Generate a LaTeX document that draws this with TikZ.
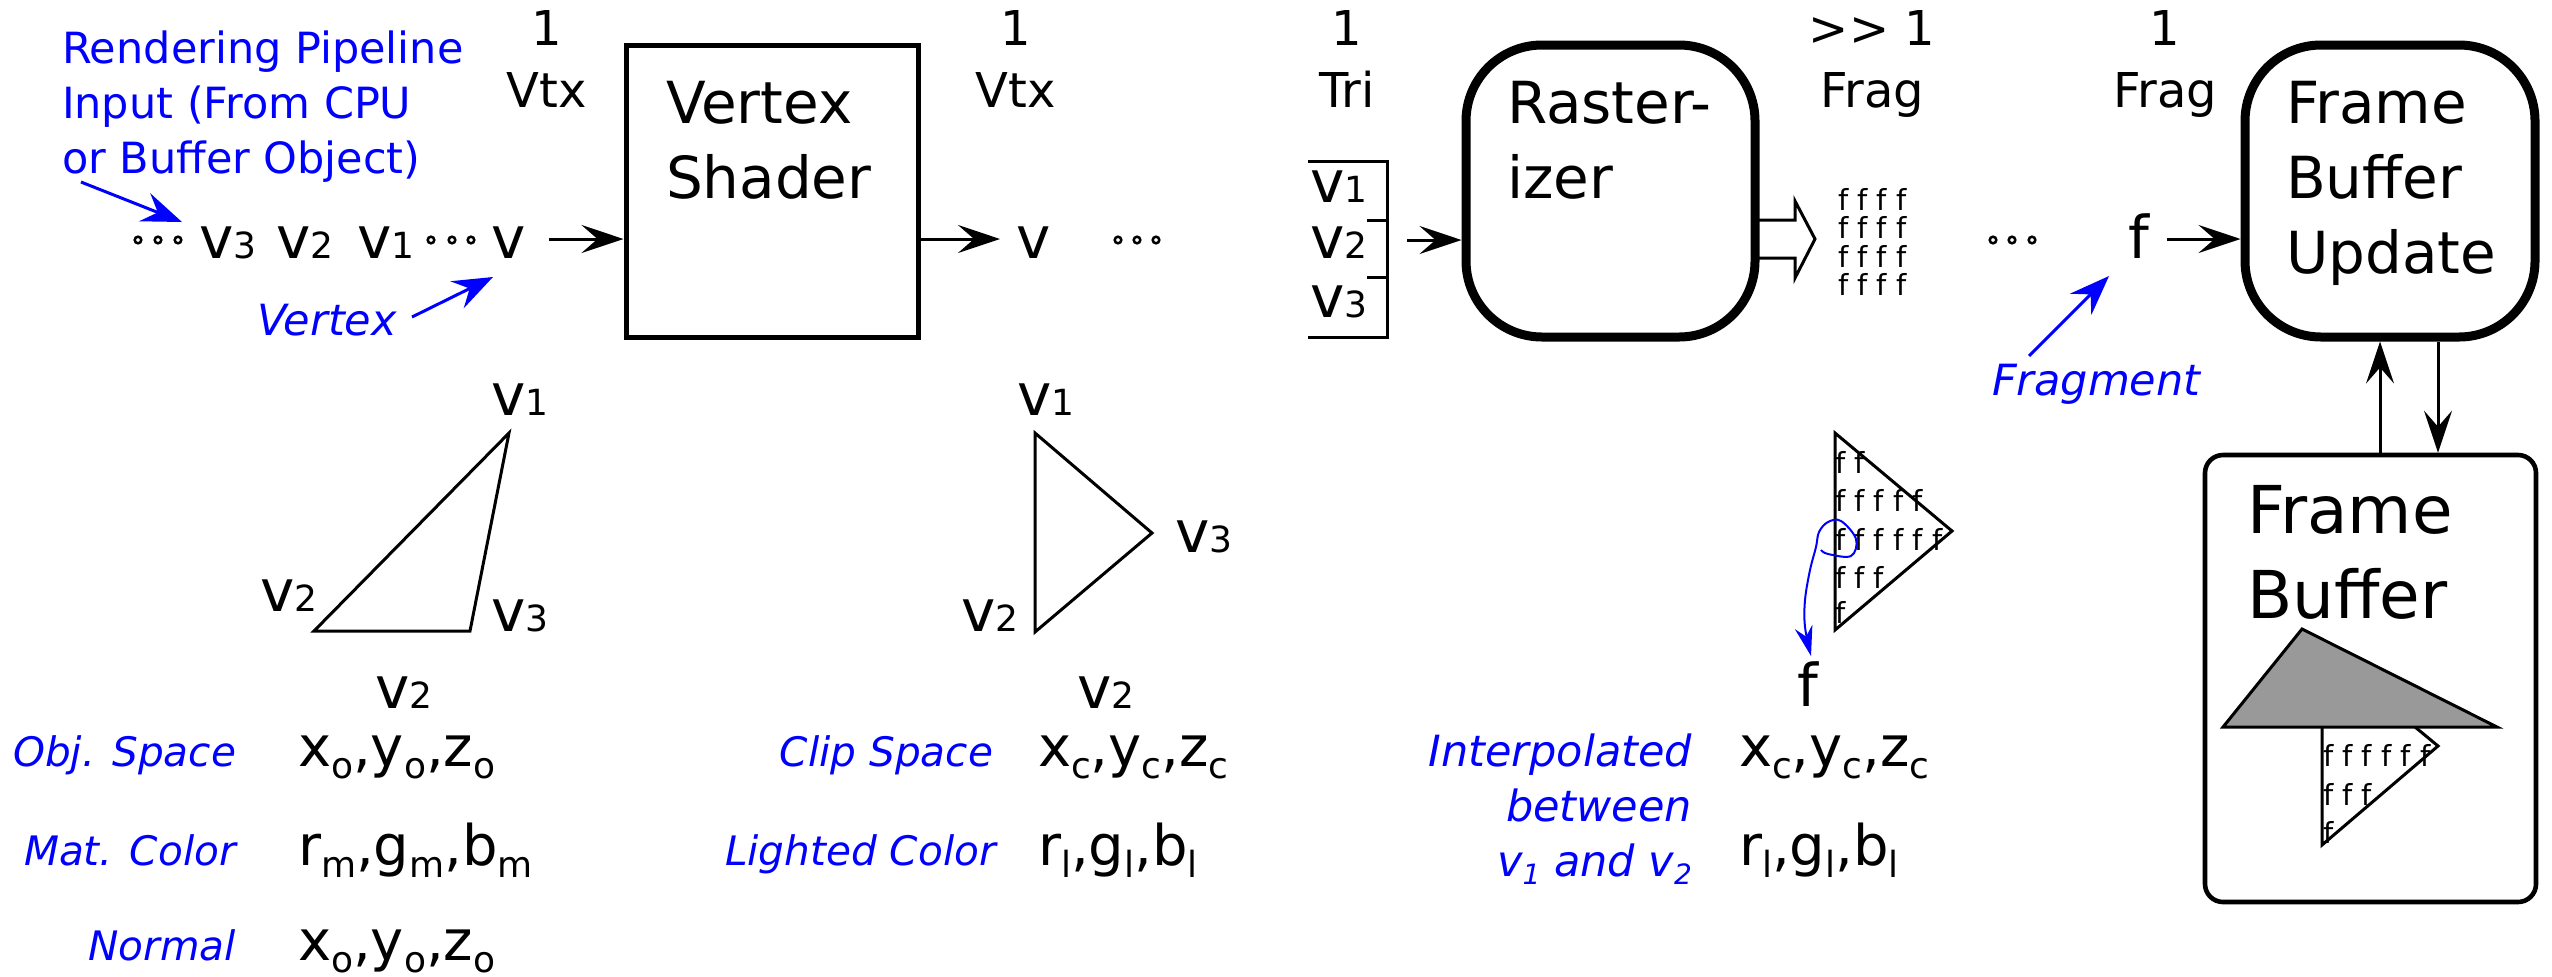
\documentclass[tikz,border=0pt]{standalone}
\usepackage{fontspec}
\setmainfont{DejaVu Sans}
\usetikzlibrary{arrows.meta}
\definecolor{fbgray}{RGB}{153,153,153}
\newcommand\fsz[2]{\fontsize{#1}{#2}\selectfont}
\newcommand\vsub[1]{{\fsz{29pt}{29pt}v}{\fsz{18pt}{18pt}#1}}
\newcommand\lsub[1]{\raisebox{-6pt}{\fsz{18pt}{18pt}#1}}
\newcommand\bsub[1]{\raisebox{-4pt}{\fsz{14pt}{14pt}#1}}
\begin{document}
\begin{tikzpicture}[x=0.5pt,y=-0.5pt,
  txt/.style={inner sep=0pt, outer sep=0pt},
  toplbl/.style={txt, anchor=base, font=\fsz{24pt}{24pt}},
  boxtxt/.style={txt, anchor=base west, font=\fsz{29pt}{29pt}},
  bigtxt/.style={txt, anchor=base west, font=\fsz{33pt}{33pt}},
  vlbl/.style={txt, anchor=base west},
  bluelbl/.style={txt, text=blue, font=\itshape\fsz{21.5pt}{21.5pt}},
  bluesm/.style={txt, text=blue, font=\itshape\fsz{20.3pt}{20.3pt}},
  blueup/.style={txt, text=blue, font=\fsz{21.5pt}{21.5pt}},
  coordtxt/.style={txt, anchor=base west, font=\fsz{28pt}{28pt}},
  smallf/.style={txt, anchor=base west, font=\fsz{14.5pt}{14.5pt}},
  arr/.style={line width=1.5pt, -{Stealth[length=21pt,width=14pt,inset=8pt]}},
  barr/.style={draw=blue, line width=1.5pt, -{Stealth[length=20pt,width=15pt,inset=7pt]}},
  dotc/.style={line width=1.25pt},
  tri/.style={line width=1.5pt},
]
\useasboundingbox (0,0) rectangle (2552,976);

% ---- blue input label
\node[blueup, anchor=base west] (rp1) at (62,63) {Rendering Pipeline};
\node[blueup, anchor=base west] (rp2) at (62,118) {Input (From CPU};
\node[blueup, anchor=base west] (rp3) at (62,173) {or Buffer Object)};
\coordinate (rpa) at (81,182);
\coordinate (rpb) at (182,222);
\draw[barr] (rpa) -- (rpb);

% ---- vertex stream
\foreach \cx in {138,158,178,431,452,471,1118,1137,1156,1993,2012,2032}
  \draw[dotc] (\cx,240) circle[radius=3.3];
\node[vlbl] (sv3) at (199,258) {\vsub{3}};
\node[vlbl] (sv2) at (276,258) {\vsub{2}};
\node[vlbl] (sv1) at (357,258) {\vsub{1}};
\node[vlbl] (sv) at (491,258) {\vsub{}};
\node[bluelbl, anchor=base west] (vtxlbl) at (257,335) {Vertex};
\coordinate (vxa) at (412,317);
\coordinate (vxb) at (493,277);
\draw[barr] (vxa) -- (vxb);

% ---- top labels
\node[toplbl] (c1a) at (547,45) {1};
\node[toplbl] (c1b) at (547,107) {Vtx};
\node[toplbl] (c2a) at (1016,45) {1};
\node[toplbl] (c2b) at (1016,107) {Vtx};
\node[toplbl] (c3a) at (1347,45) {1};
\node[toplbl] (c3b) at (1347,107) {Tri};
\node[toplbl] (c4a) at (1872,45) {>\kern0pt> 1};
\node[toplbl] (c4b) at (1872,107) {Frag};
\node[toplbl] (c5a) at (2165,45) {1};
\node[toplbl] (c5b) at (2165,107) {Frag};

% ---- Vertex shader
\node[draw, line width=2.5pt, minimum width=146pt, minimum height=146pt, inner sep=0pt] (vs) at (772,191) {};
\node[boxtxt] (vst1) at (666,123) {Vertex};
\node[boxtxt] (vst2) at (666,198) {Shader};
\coordinate (a1) at (549,239);
\draw[arr] (a1) -- (a1 -| vs.west);
\coordinate (a2) at (1000,239);
\draw[arr] (vs.east |- a2) -- (a2);
\node[vlbl] (ov) at (1016,258) {\vsub{}};

% ---- triangle bracket
\coordinate (brk) at (1387,161);
\draw[line width=1.5pt] (1308,161) -- (brk) -- (1387,337) -- (1308,337);
\draw[line width=1.5pt] (1367,220) -- (1387,220) (1367,277) -- (1387,277);
\node[vlbl] (tv1) at (1310,202) {\vsub{1}};
\node[vlbl] (tv2) at (1310,258) {\vsub{2}};
\node[vlbl] (tv3) at (1310,317) {\vsub{3}};

% ---- Rasterizer
\node[draw, line width=4.5pt, rounded corners=38pt, minimum width=144.5pt, minimum height=146pt, inner sep=0pt] (ras) at (1610.5,191) {};
\node[boxtxt] (rt1) at (1507,123) {Raster-};
\node[boxtxt] (rt2) at (1507,198) {izer};
\coordinate (a3) at (1407,240);
\draw[arr] (a3) -- (a3 -| ras.west);
\draw[line width=1.5pt, line join=miter] (1757,220) -- (1795,220) -- (1795,201) -- (1815,239) -- (1795,278) -- (1795,258) -- (1757,258);
\node[smallf] (g1) at (1838,210) {f f f f};
\node[smallf] (g2) at (1838,238) {f f f f};
\node[smallf] (g3) at (1838,267) {f f f f};
\node[smallf] (g4) at (1838,295) {f f f f};

% ---- fragment
\node[vlbl, font=\fsz{29.5pt}{29.5pt}] (fr) at (2128,258) {f};
\coordinate (a4) at (2167,239);
\node[bluelbl, anchor=base west] (fraglbl) at (1992,395) {Fragment};
\coordinate (fga) at (2029,356);
\coordinate (fgb) at (2109,276);
\draw[barr] (fga) -- (fgb);

% ---- Frame buffer update
\node[draw, line width=4.5pt, rounded corners=38pt, minimum width=145pt, minimum height=146pt, inner sep=0pt] (fbu) at (2390,191) {};
\node[boxtxt] (ft1) at (2286,123) {Frame};
\node[boxtxt] (ft2) at (2286,198) {Buffer};
\node[boxtxt] (ft3) at (2286,273) {Update};
\draw[arr] (a4) -- (a4 -| fbu.west);

% ---- Frame buffer
\node[draw, line width=2.3pt, rounded corners=9pt, minimum width=165.5pt, minimum height=223.5pt, inner sep=0pt] (fb) at (2370.5,678.5) {};
\node[bigtxt] (fbt1) at (2247,533) {Frame};
\node[bigtxt] (fbt2) at (2247,618) {Buffer};
\coordinate (up) at (2380,400);
\coordinate (dn) at (2438,400);
\draw[arr] (up |- fb.north) -- (up |- fbu.south);
\draw[arr] (dn |- fbu.south) -- (dn |- fb.north);
\draw[tri, fill=white] (2322,650) -- (2438,746) -- (2322,845) -- cycle;
\node[smallf] (fb1) at (2323,766) {f f f f f f};
\node[smallf] (fb2) at (2323,805) {f f f};
\node[smallf] (fb3) at (2323,843) {f};
\draw[tri, fill=fbgray, line join=miter] (2223,727) -- (2302,629) -- (2497,727) -- cycle;

% ---- object-space triangle
\draw[tri] (509,433) -- (314,631) -- (470,631) -- cycle;
\node[vlbl] (o1) at (491,415) {\vsub{1}};
\node[vlbl] (o2) at (260,611) {\vsub{2}};
\node[vlbl] (o3) at (491,631) {\vsub{3}};
\node[vlbl] (o4) at (375,708) {\vsub{2}};
\node[bluesm, anchor=base east] (l1) at (236,766) {Obj. Space};
\node[bluesm, anchor=base east] (l2) at (236,865) {Mat. Color};
\node[bluesm, anchor=base east] (l3) at (236,960) {Normal};
\node[coordtxt] (d1) at (298,766) {x\lsub{o},y\lsub{o},z\lsub{o}};
\node[coordtxt] (d2) at (298,865) {r\lsub{m},g\lsub{m},b\lsub{m}};
\node[coordtxt] (d3) at (298,960) {x\lsub{o},y\lsub{o},z\lsub{o}};

% ---- clip-space triangle
\draw[tri] (1035,433) -- (1035,632) -- (1152,533) -- cycle;
\node[vlbl] (p1) at (1017,415) {\vsub{1}};
\node[vlbl] (p2) at (961,631) {\vsub{2}};
\node[vlbl] (p3) at (1175,552) {\vsub{3}};
\node[vlbl] (p4) at (1077,708) {\vsub{2}};
\node[bluesm, anchor=base east] (m1) at (993,766) {Clip Space};
\node[bluesm, anchor=base east] (m2) at (996,865) {Lighted Color};
\node[coordtxt] (e1) at (1038,766) {x\lsub{c},y\lsub{c},z\lsub{c}};
\node[coordtxt] (e2) at (1038,865) {r\lsub{l},g\lsub{l},b\lsub{l}};

% ---- rasterized triangle
\draw[tri] (1835,433) -- (1835,630) -- (1952,531) -- cycle;
\node[smallf] (r1) at (1835,473) {f f};
\node[smallf] (r2) at (1835,511) {f f f f f};
\node[smallf] (r3) at (1835,550) {f f f f f f};
\node[smallf] (r4) at (1835,588) {f f f};
\node[smallf] (r5) at (1835,623) {f};
\coordinate (lpend) at (1811,656);
\draw[draw=blue, line width=1pt, -{Stealth[length=15pt,width=9pt,inset=5pt]}]
  plot[smooth, tension=0.6] coordinates {(1821,550) (1828,554) (1851,556) (1856,539) (1841,521) (1828,522) (1819,532) (1816,547) (1810,570) (1805,600) (1805,627) (lpend)};
\node[vlbl, font=\fsz{29.5pt}{29.5pt}] (bigf) at (1797,706) {f};
\node[bluelbl, anchor=base east] (n1) at (1692,766) {Interpolated};
\node[bluelbl, anchor=base east] (n2) at (1692,821) {between};
\node[bluelbl, anchor=base east] (n3) at (1692,876) {v\bsub{1} and v\bsub{2}};
\node[coordtxt] (h1) at (1739,766) {x\lsub{c},y\lsub{c},z\lsub{c}};
\node[coordtxt] (h2) at (1739,865) {r\lsub{l},g\lsub{l},b\lsub{l}};
\end{tikzpicture}
\end{document}
